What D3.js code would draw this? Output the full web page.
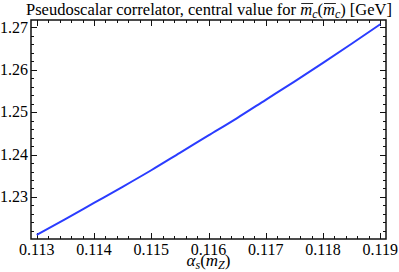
<!DOCTYPE html>
<meta charset="utf-8">
<body>
<svg width="399" height="272"></svg>
<script src="https://d3js.org/d3.v7.min.js"></script>
<script>
  // alpha_s(m_Z) grid and the central mc(mc) value
  var alphas = [0.113, 0.1135, 0.114, 0.1145, 0.115, 0.1155, 0.116, 0.1165, 0.117, 0.1175, 0.118, 0.1185, 0.119];
  var mcValues = [1.2211, 1.2248, 1.2286, 1.2324, 1.2363, 1.2404, 1.2445, 1.2486, 1.2529, 1.2572, 1.2616, 1.2661, 1.2707];
  var xTicks = [0.113, 0.114, 0.115, 0.116, 0.117, 0.118, 0.119];
  var yTicks = [1.23, 1.24, 1.25, 1.26, 1.27];

  var FONT = "'Liberation Serif'";

  d3.select("body").style("margin", "0px");

  var svg = d3.select("svg").style("display", "block"),
    margin = { top: 20, right: 13, bottom: 33, left: 31 },
    width = +svg.attr("width") - margin.left - margin.right,
    height = +svg.attr("height") - margin.top - margin.bottom;

  var x = d3.scaleLinear().domain([0.1129, 0.1191]).range([0, width]),
    y = d3.scaleLinear().domain([1.2201, 1.2717]).range([height, 0]);

  var g = svg.append("g")
    .attr("transform", "translate(" + margin.left + "," + margin.top + ")");

  // minor ticks every fifth of a major step
  var xMinor = d3.range(0.113, 0.11901, 0.0002);
  var yMinor = d3.range(1.222, 1.2711, 0.002);

  function isMajor(v, list) {
    return list.some(function (t) { return Math.abs(t - v) < 1e-7; });
  }

  var ticks = g.append("g").attr("stroke", "#111").attr("stroke-width", 1);
  xMinor.forEach(function (v) {
    var len = isMajor(v, xTicks) ? 6 : 3;
    var px = Math.round(x(v)) + 0.5;
    ticks.append("line").attr("x1", px).attr("x2", px).attr("y1", height).attr("y2", height - len);
    ticks.append("line").attr("x1", px).attr("x2", px).attr("y1", 0).attr("y2", len);
  });
  yMinor.forEach(function (v) {
    var len = isMajor(v, yTicks) ? 6 : 3;
    var py = Math.round(y(v)) + 0.5;
    ticks.append("line").attr("x1", 0).attr("x2", len).attr("y1", py).attr("y2", py);
    ticks.append("line").attr("x1", width).attr("x2", width - len).attr("y1", py).attr("y2", py);
  });

  g.selectAll(".xlab")
    .data(xTicks)
    .enter().append("text")
    .attr("x", function (d) { return x(d); })
    .attr("y", height + 16)
    .attr("text-anchor", "middle")
    .attr("font-size", 16)
    .style("font-family", FONT)
    .text(function (d) { return d3.format(".3f")(d); });

  g.selectAll(".ylab")
    .data(yTicks)
    .enter().append("text")
    .attr("x", -3)
    .attr("y", function (d) { return y(d); })
    .attr("dy", "0.33em")
    .attr("text-anchor", "end")
    .attr("font-size", 16)
    .style("font-family", FONT)
    .text(function (d) { return d3.format(".2f")(d); });

  // frame
  g.append("rect")
    .attr("width", width)
    .attr("height", height)
    .attr("fill", "none")
    .attr("stroke", "#111")
    .attr("stroke-width", 1.5);

  var line = d3.line()
    .x(function (d, i) { return x(alphas[i]); })
    .y(function (d) { return y(d); })
    .curve(d3.curveMonotoneX);

  g.append("path")
    .datum(mcValues)
    .attr("fill", "none")
    .attr("stroke", "#2a3cff")
    .attr("stroke-width", 2)
    .attr("d", line);

  // title, with overlines drawn by hand over the two m's
  var prefix = "Pseudoscalar correlator, central value for ";
  var title = svg.append("text")
    .attr("x", 209)
    .attr("y", 15)
    .attr("text-anchor", "middle")
    .attr("font-size", 16.5)
    .style("font-family", FONT);
  title.append("tspan").text(prefix);
  title.append("tspan").attr("font-style", "italic").text("m");
  title.append("tspan").attr("font-style", "italic").attr("font-size", 12).attr("dy", 3).text("c");
  title.append("tspan").attr("dy", -3).text("(");
  title.append("tspan").attr("font-style", "italic").text("m");
  title.append("tspan").attr("font-style", "italic").attr("font-size", 12).attr("dy", 3).text("c");
  title.append("tspan").attr("dy", -3).text(") [GeV]");

  var tNode = title.node();
  [prefix.length, prefix.length + 3].forEach(function (i) {
    var s = tNode.getStartPositionOfChar(i), e = tNode.getEndPositionOfChar(i);
    svg.append("line")
      .attr("x1", s.x + 1).attr("x2", e.x + 1)
      .attr("y1", 3.5).attr("y2", 3.5)
      .attr("stroke", "#111").attr("stroke-width", 0.9);
  });

  // x axis label
  var xl = svg.append("text")
    .attr("x", margin.left + width / 2)
    .attr("y", 266)
    .attr("text-anchor", "middle")
    .attr("font-size", 17)
    .style("font-family", FONT);
  xl.append("tspan").attr("font-style", "italic").text("α");
  xl.append("tspan").attr("font-style", "italic").attr("font-size", 12).attr("dy", 3).text("s");
  xl.append("tspan").attr("dy", -3).text("(");
  xl.append("tspan").attr("font-style", "italic").text("m");
  xl.append("tspan").attr("font-style", "italic").attr("font-size", 12).attr("dy", 3).text("Z");
  xl.append("tspan").attr("dy", -3).text(")");
</script>
</body>
